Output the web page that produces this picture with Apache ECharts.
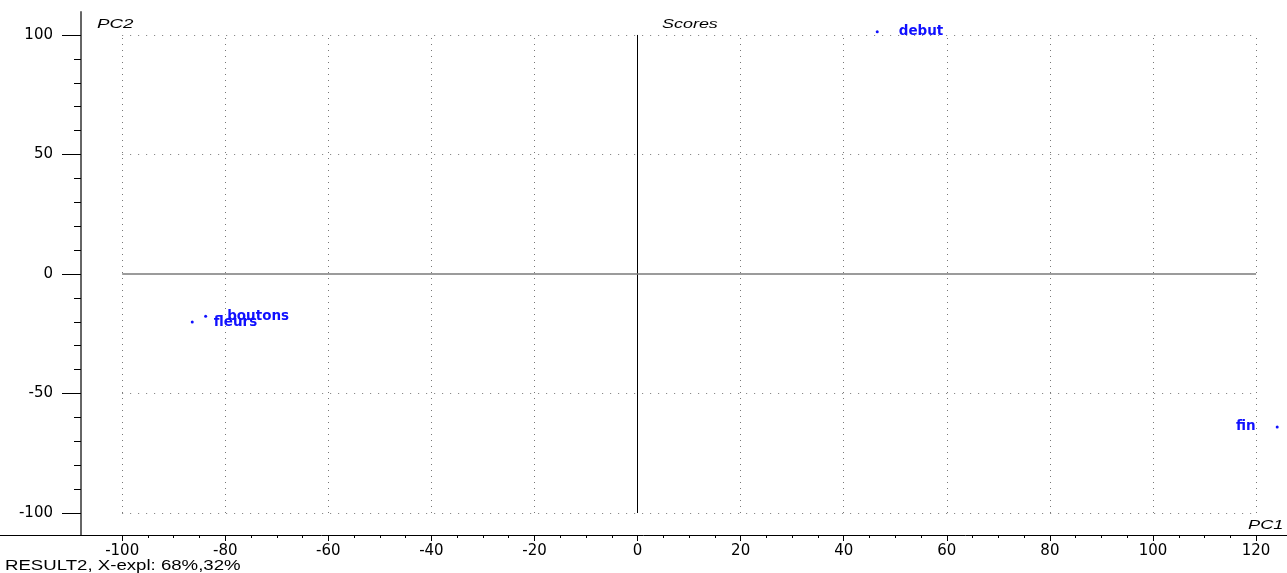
<!DOCTYPE html>
<html>
<head>
<meta charset="utf-8">
<title>Scores</title>
<script src="https://cdn.jsdelivr.net/npm/echarts@6/dist/echarts.min.js"></script>
<style>
  html, body { margin: 0; padding: 0; background: #fff; }
  #chart { width: 1287px; height: 573px; }
</style>
</head>
<body>
<div id="chart"></div>
<script>
// Sample scores on the first two principal components
const categories = ['debut', 'boutons', 'fleurs', 'fin'];
const pc1Scores = [46.5, -83.8, -86.4, 124.1];
const pc2Scores = [101.3, -17.7, -20.1, -64.0];
const labelSides = ['right', 'right', 'right', 'left'];

// Axis ticks
const xMajorTicks = [-100, -80, -60, -40, -20, 0, 20, 40, 60, 80, 100, 120];
const xMinorTicks = [-95, -90, -85, -75, -70, -65, -55, -50, -45, -35, -30, -25, -15, -10, -5,
  5, 10, 15, 25, 30, 35, 45, 50, 55, 65, 70, 75, 85, 90, 95, 105, 110, 115];
const yMajorTicks = [-100, -50, 0, 50, 100];
const yMinorTicks = [-90, -80, -70, -60, -40, -30, -20, -10, 10, 20, 30, 40, 60, 70, 80, 90];

const X_MIN = -123.7, X_MAX = 126.0;
const Y_MIN = -109.2, Y_MAX = 109.6;
const BLUE = '#1010ff';

// Reference grid: dotted lines inside the [-100,120] x [-100,100] frame
const gx0 = xMajorTicks[0], gx1 = xMajorTicks[xMajorTicks.length - 1];
const gy0 = yMajorTicks[0], gy1 = yMajorTicks[yMajorTicks.length - 1];
const vDotted = xMajorTicks.filter(v => v !== 0).map(v => ({ coords: [[v, gy0], [v, gy1]] }));
const hDotted = yMajorTicks.filter(v => v !== 0).map(v => ({ coords: [[gx0, v], [gx1, v]] }));

const chart = echarts.init(document.getElementById('chart'), null, { renderer: 'canvas' });

const tickFont = { fontFamily: 'DejaVu Sans', fontSize: 15, color: '#000' };

chart.setOption({
  animation: false,
  backgroundColor: '#fff',
  grid: { left: 0, right: 0, top: 12, bottom: 38, containLabel: false, outerBoundsMode: 'none' },
  xAxis: [
    {
      type: 'value', min: X_MIN, max: X_MAX, position: 'bottom',
      axisLine: { show: true, onZero: false, lineStyle: { color: '#000', width: 1 } },
      axisTick: { show: true, customValues: xMajorTicks, length: 6, lineStyle: { color: '#000' } },
      axisLabel: Object.assign({ customValues: xMajorTicks, margin: 9, showMinLabel: true, showMaxLabel: true }, tickFont),
      splitLine: { show: false }
    },
    {
      type: 'value', min: X_MIN, max: X_MAX, position: 'bottom',
      axisLine: { show: false, onZero: false },
      axisTick: { show: true, customValues: xMinorTicks, length: 3, lineStyle: { color: '#000' } },
      axisLabel: { show: false },
      splitLine: { show: false }
    }
  ],
  yAxis: [
    {
      type: 'value', min: Y_MIN, max: Y_MAX, position: 'left', offset: -81,
      axisLine: { show: true, onZero: false, lineStyle: { color: '#666', width: 2 } },
      axisTick: { show: true, customValues: yMajorTicks, length: 19, lineStyle: { color: '#000' } },
      axisLabel: Object.assign({ customValues: yMajorTicks, margin: 28, showMinLabel: true, showMaxLabel: true }, tickFont),
      splitLine: { show: false }
    },
    {
      type: 'value', min: Y_MIN, max: Y_MAX, position: 'left', offset: -81,
      axisLine: { show: false, onZero: false },
      axisTick: { show: true, customValues: yMinorTicks, length: 7, lineStyle: { color: '#000' } },
      axisLabel: { show: false },
      splitLine: { show: false }
    }
  ],
  graphic: [
    { type: 'text', x: 97, y: 24, scaleX: 1.44, style: { text: 'PC2', font: 'italic 13px "Liberation Sans"', fill: '#000', textVerticalAlign: 'middle' } },
    { type: 'text', x: 662, y: 24, scaleX: 1.38, style: { text: 'Scores', font: 'italic 13px "Liberation Sans"', fill: '#000', textVerticalAlign: 'middle' } },
    { type: 'text', x: 1248, y: 525, scaleX: 1.4, style: { text: 'PC1', font: 'italic 13px "Liberation Sans"', fill: '#000', textVerticalAlign: 'middle' } },
    { type: 'text', x: 5, y: 566, scaleX: 1.33, style: { text: 'RESULT2, X-expl: 68%,32%', font: '14px "Liberation Sans"', fill: '#000', textVerticalAlign: 'middle' } }
  ],
  series: [
    {
      type: 'lines', coordinateSystem: 'cartesian2d', xAxisIndex: 0, yAxisIndex: 0, silent: true,
      polyline: false, z: 1,
      lineStyle: { color: '#777', width: 1, type: [1, 5], opacity: 1 },
      data: vDotted
    },
    {
      type: 'lines', coordinateSystem: 'cartesian2d', xAxisIndex: 0, yAxisIndex: 0, silent: true,
      polyline: false, z: 1,
      lineStyle: { color: '#777', width: 1, type: [1, 7], opacity: 1 },
      data: hDotted
    },
    {
      type: 'lines', coordinateSystem: 'cartesian2d', xAxisIndex: 0, yAxisIndex: 0, silent: true,
      polyline: false, z: 2,
      lineStyle: { color: '#000', width: 1, type: 'solid', opacity: 1 },
      data: [{ coords: [[0, gy0], [0, gy1]] }]
    },
    {
      type: 'lines', coordinateSystem: 'cartesian2d', xAxisIndex: 0, yAxisIndex: 0, silent: true,
      polyline: false, z: 2,
      lineStyle: { color: '#7a7a7a', width: 1.5, type: 'solid', opacity: 1 },
      data: [{ coords: [[gx0, 0], [gx1, 0]] }]
    },
    {
      type: 'scatter', xAxisIndex: 0, yAxisIndex: 0, z: 5,
      symbol: 'circle', symbolSize: 3,
      itemStyle: { color: BLUE, opacity: 1 },
      data: categories.map((name, i) => ({
        name: name,
        value: [pc1Scores[i], pc2Scores[i]],
        label: { position: labelSides[i] }
      })),
      label: {
        show: true, distance: 20, formatter: '{b}', opacity: 1,
        fontFamily: 'DejaVu Sans', fontWeight: 'bold', fontSize: 13.5, color: BLUE
      }
    }
  ]
});
</script>
</body>
</html>
